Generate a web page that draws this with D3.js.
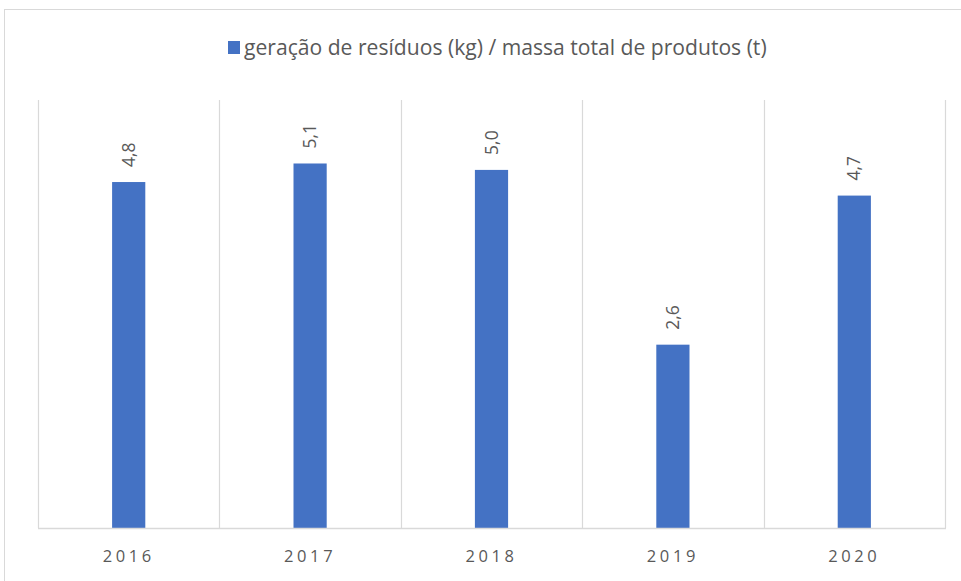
<!DOCTYPE html>
<html>
<head>
<meta charset="utf-8">
<script src="https://cdn.jsdelivr.net/npm/d3@7"></script>
<style>
  html, body { margin: 0; padding: 0; background: #fff; }
  svg { display: block; }
</style>
</head>
<body>
<svg id="chart" width="961" height="581"></svg>
<script>
const years = ["2016", "2017", "2018", "2019", "2020"];
const values = [4.85, 5.11, 5.02, 2.57, 4.66];
const seriesName = "geração de resíduos (kg) / massa total de produtos (t)";
const yDomain = [0, 6];

const W = 961, H = 581;
const plot = { left: 38, right: 945, top: 100, bottom: 528 };
const blue = "#4472C4";
const grid = "#d9d9d9";
const textColor = "#595959";
const font = "'Open Sans', Lato, sans-serif";

const svg = d3.select("#chart");

// outer chart border
svg.append("rect")
  .attr("x", 4.5).attr("y", 9.5)
  .attr("width", W + 10).attr("height", H + 10)
  .attr("fill", "#fff").attr("stroke", grid).attr("stroke-width", 1);

const x = d3.scaleBand().domain(years).range([plot.left, plot.right]).paddingInner(0).paddingOuter(0);
const y = d3.scaleLinear().domain(yDomain).range([plot.bottom, plot.top]);

// vertical gridlines at category boundaries
const bounds = years.map(d => x(d)).concat([x(years[years.length - 1]) + x.bandwidth()]);
svg.append("g").selectAll("line").data(bounds).join("line")
  .attr("x1", d => Math.round(d) + 0.5).attr("x2", d => Math.round(d) + 0.5)
  .attr("y1", plot.top).attr("y2", plot.bottom)
  .attr("stroke", grid).attr("stroke-width", 1.2);

// bars
const barW = x.bandwidth() * 0.183;
svg.append("g").selectAll("rect").data(values).join("rect")
  .attr("x", (d, i) => x(years[i]) + x.bandwidth() / 2 - barW / 2)
  .attr("y", d => y(d))
  .attr("width", barW)
  .attr("height", d => y(0) - y(d))
  .attr("fill", blue);

// baseline
svg.append("line")
  .attr("x1", plot.left).attr("x2", plot.right + 1)
  .attr("y1", plot.bottom + 0.5).attr("y2", plot.bottom + 0.5)
  .attr("stroke", grid).attr("stroke-width", 1.5);

// x axis labels
const xAxis = d3.axisBottom(x).tickSize(0).tickPadding(0);
const gx = svg.append("g").attr("transform", `translate(0,${plot.bottom})`).call(xAxis);
gx.select(".domain").remove();
gx.selectAll("text")
  .attr("y", 34)
  .attr("dy", 0)
  .attr("fill", textColor)
  .style("font-family", font)
  .style("font-size", "16.5px")
  .style("letter-spacing", "3.6px");

// data labels rotated
const fmt = v => d3.format(".1f")(v).replace(".", ",");
svg.append("g").selectAll("text").data(values).join("text")
  .attr("transform", (d, i) => `translate(${x(years[i]) + x.bandwidth() / 2 + 6},${y(d) - 15}) rotate(-90)`)
  .attr("text-anchor", "start")
  .attr("fill", textColor)
  .style("font-family", font)
  .style("font-size", "17.5px")
  .text(d => fmt(d));

// legend
const leg = svg.append("g");
leg.append("rect").attr("x", 228).attr("y", 41).attr("width", 12).attr("height", 13).attr("fill", blue);
const legText = leg.append("text")
  .attr("x", 244).attr("y", 55)
  .attr("fill", textColor)
  .style("font-family", font)
  .style("font-size", "19px")
  .text(seriesName);
const targetW = 523;
const curW = legText.node().getComputedTextLength();
if (curW > 0) legText.style("font-size", (19 * targetW / curW).toFixed(2) + "px");
</script>
</body>
</html>
